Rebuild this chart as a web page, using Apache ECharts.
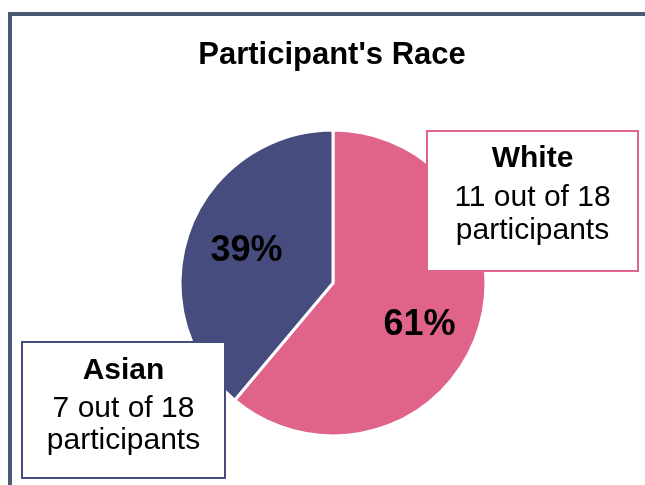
<!DOCTYPE html>
<html>
<head>
<meta charset="utf-8">
<script src="https://cdn.jsdelivr.net/npm/echarts@6/dist/echarts.min.js"></script>
<style>
  html, body { margin: 0; padding: 0; background: #fff; }
  #chart { width: 645px; height: 485px; }
</style>
</head>
<body>
<div id="chart"></div>
<script>
// data
var categories = ['White', 'Asian'];
var counts = [11, 7];
var total = 18;
var sliceColors = ['#E0648A', '#474C7E'];

var font = 'Liberation Sans, Arial, sans-serif';

var chart = echarts.init(document.getElementById('chart'));

var pieData = categories.map(function (name, i) {
  return { name: name, value: counts[i], itemStyle: { color: sliceColors[i] } };
});

// callout boxes: one per category
var boxes = [
  { x: 427, y: 131, w: 211, h: 140, lines: [159, 197.5, 231] },
  { x: 22, y: 342, w: 203, h: 136, lines: [371, 408.5, 441] }
];

function boxElements(i) {
  var b = boxes[i];
  var cx = b.x + b.w / 2;
  var texts = [categories[i], counts[i] + ' out of ' + total, 'participants'];
  var els = [{
    type: 'rect',
    shape: { x: b.x, y: b.y, width: b.w, height: b.h },
    style: { fill: '#fff', stroke: sliceColors[i], lineWidth: 2 },
    z: 10
  }];
  texts.forEach(function (t, k) {
    els.push({
      type: 'text',
      x: cx,
      y: b.lines[k],
      style: {
        text: t,
        fill: '#000',
        font: (k === 0 ? 'bold ' : '') + '30px ' + font,
        textAlign: 'center',
        textVerticalAlign: 'middle'
      },
      z: 11
    });
  });
  return els;
}

var graphics = [{
  type: 'rect',
  shape: { x: 10, y: 14, width: 700, height: 600 },
  style: { fill: 'none', stroke: '#4A5A72', lineWidth: 4 },
  z: 1
}].concat(boxElements(0), boxElements(1));

var option = {
  backgroundColor: '#fff',
  animation: false,
  title: {
    text: "Participant's Race",
    left: 332,
    textAlign: 'center',
    top: 40,
    padding: 0,
    textStyle: { fontFamily: font, fontSize: 31, fontWeight: 'bold', color: '#000' }
  },
  graphic: graphics,
  series: [
    {
      type: 'pie',
      center: [333, 283],
      radius: 153,
      startAngle: 90,
      clockwise: true,
      silent: true,
      label: { show: false },
      labelLine: { show: false },
      itemStyle: { borderColor: '#fff', borderWidth: 3 },
      data: pieData
    },
    {
      // invisible overlay so the percent labels sit at ~0.6 of the radius
      type: 'pie',
      center: [333, 283],
      radius: 182,
      startAngle: 87,
      clockwise: true,
      silent: true,
      itemStyle: { color: 'rgba(0,0,0,0)' },
      labelLine: { show: false },
      label: {
        show: true,
        position: 'inside',
        offset: [0, 5],
        fontFamily: font,
        fontSize: 36,
        fontWeight: 'bold',
        color: '#000',
        formatter: function (p) { return Math.round(p.percent) + '%'; }
      },
      data: categories.map(function (name, i) { return { name: name, value: counts[i] }; })
    }
  ]
};

chart.setOption(option);
</script>
</body>
</html>
